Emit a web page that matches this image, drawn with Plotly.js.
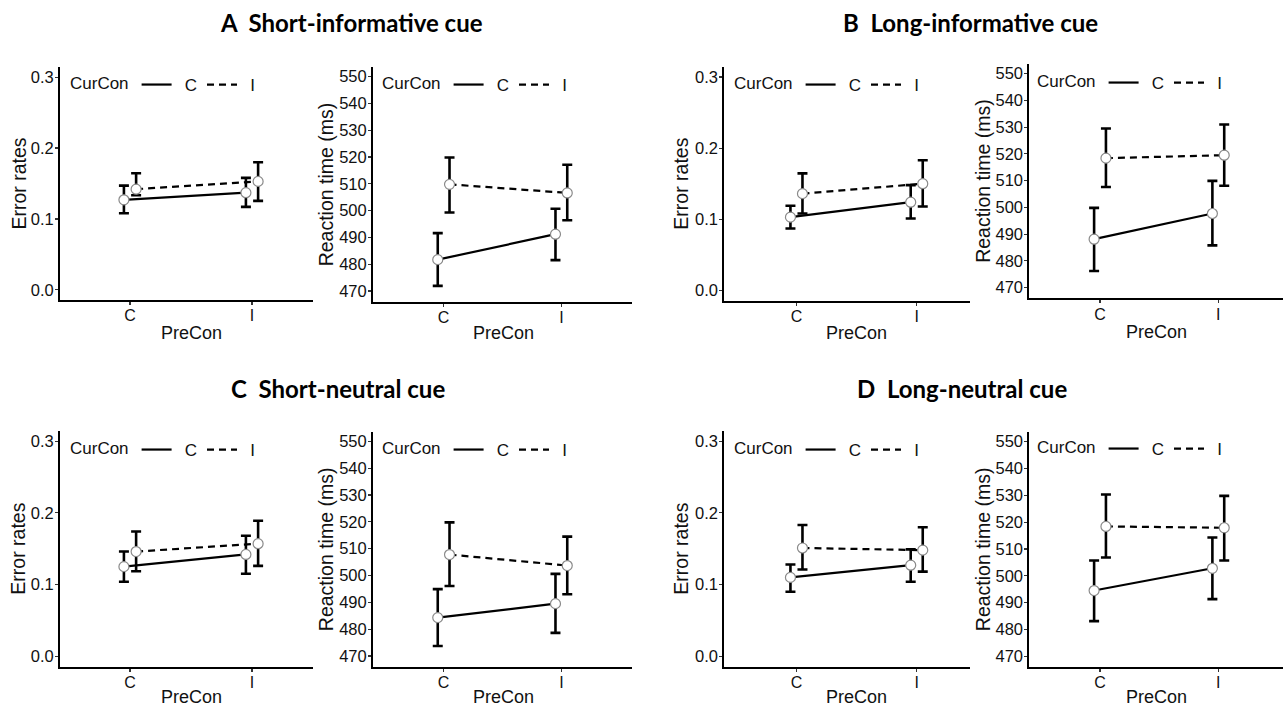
<!DOCTYPE html>
<html>
<head>
<meta charset="utf-8">
<script src="https://cdn.plot.ly/plotly-3.0.1.min.js"></script>
<style>html,body{margin:0;padding:0;background:#fff;}#chart{width:1283px;height:706px;}</style>
</head>
<body>
<div id="chart"></div>
<script>
// ---------------- DATA ----------------
const preCon = ['C', 'I'];
const curConLevels = ['C', 'I'];
const panelTitles = ['A\u00a0\u00a0Short-informative cue', 'B\u00a0\u00a0Long-informative cue', 'C\u00a0\u00a0Short-neutral cue', 'D\u00a0\u00a0Long-neutral cue'];
const errTicks = [0.0, 0.1, 0.2, 0.3];
const rtTicks = [470, 480, 490, 500, 510, 520, 530, 540, 550];
const xTitle = 'PreCon';
const errTitle = 'Error rates';
const rtTitle = 'Reaction time (ms)';
const legendTitle = 'CurCon';

// Error rates (mean, upper, lower) for CurCon = C and I, across PreCon C, I
const errA_C = [0.127, 0.137], errA_C_up = [0.147, 0.158], errA_C_lo = [0.108, 0.117];
const errA_I = [0.142, 0.153], errA_I_up = [0.1645, 0.180], errA_I_lo = [0.1335, 0.1255];
const errB_C = [0.103, 0.124], errB_C_up = [0.119, 0.148], errB_C_lo = [0.087, 0.101];
const errB_I = [0.136, 0.150], errB_I_up = [0.1645, 0.183], errB_I_lo = [0.108, 0.118];
const errC_C = [0.125, 0.142], errC_C_up = [0.146, 0.168], errC_C_lo = [0.104, 0.115];
const errC_I = [0.146, 0.157], errC_I_up = [0.174, 0.189], errC_I_lo = [0.1185, 0.126];
const errD_C = [0.110, 0.127], errD_C_up = [0.128, 0.149], errD_C_lo = [0.090, 0.104];
const errD_I = [0.151, 0.148], errD_I_up = [0.183, 0.180], errD_I_lo = [0.121, 0.118];

// Reaction times in ms (mean, upper, lower)
const rtA_C = [481.7, 491.2], rtA_C_up = [491.6, 500.7], rtA_C_lo = [471.9, 481.5];
const rtA_I = [509.8, 506.6], rtA_I_up = [519.8, 517.1], rtA_I_lo = [499.3, 496.4];
const rtB_C = [488.1, 497.7], rtB_C_up = [499.8, 509.9], rtB_C_lo = [476.2, 485.8];
const rtB_I = [518.4, 519.5], rtB_I_up = [529.5, 531.0], rtB_I_lo = [507.6, 508.1];
const rtC_C = [484.3, 489.5], rtC_C_up = [494.9, 500.6], rtC_C_lo = [473.7, 478.6];
const rtC_I = [507.8, 503.7], rtC_I_up = [519.8, 514.5], rtC_I_lo = [496.1, 493.0];
const rtD_C = [494.5, 502.8], rtD_C_up = [505.7, 514.3], rtD_C_lo = [483.1, 491.3];
const rtD_I = [518.4, 517.9], rtD_I_up = [530.3, 529.8], rtD_I_lo = [506.8, 505.7];

// ---------------- LAYOUT GEOMETRY (pixels) ----------------
const W = 1283, H = 706;
const FONT = 'Liberation Sans, Arial, sans-serif';

const panels = [
  {kind: 'err', C: [errA_C, errA_C_up, errA_C_lo], I: [errA_I, errA_I_up, errA_I_lo], xd: [60, 313],     yd: [67, 300],     xr: [-0.574, 1.5],  leg: [68, 67],   xt: [191.7, 333], yt: 18},
  {kind: 'rt',  C: [rtA_C, rtA_C_up, rtA_C_lo],    I: [rtA_I, rtA_I_up, rtA_I_lo],    xd: [373, 632],    yd: [67, 301.7],   xr: [-0.6, 1.6],    leg: [380, 67],  xt: [503, 333],   yt: 326},
  {kind: 'err', C: [errB_C, errB_C_up, errB_C_lo], I: [errB_I, errB_I_up, errB_I_lo], xd: [724.3, 970],  yd: [66.7, 300.7], xr: [-0.6, 1.443],  leg: [732, 67],  xt: [856.7, 333], yt: 681},
  {kind: 'rt',  C: [rtB_C, rtB_C_up, rtB_C_lo],    I: [rtB_I, rtB_I_up, rtB_I_lo],    xd: [1029.3, 1283],yd: [64, 298.3],   xr: [-0.598, 1.547],leg: [1035, 65], xt: [1156, 331.7],yt: 982.7},
  {kind: 'err', C: [errC_C, errC_C_up, errC_C_lo], I: [errC_I, errC_I_up, errC_I_lo], xd: [60, 313],     yd: [430.7, 666.7],xr: [-0.574, 1.5],  leg: [68, 432],  xt: [191.7, 696.7], yt: 18},
  {kind: 'rt',  C: [rtC_C, rtC_C_up, rtC_C_lo],    I: [rtC_I, rtC_I_up, rtC_I_lo],    xd: [373, 632],    yd: [431.7, 666.7],xr: [-0.6, 1.6],    leg: [380, 432], xt: [503, 696.7],   yt: 326},
  {kind: 'err', C: [errD_C, errD_C_up, errD_C_lo], I: [errD_I, errD_I_up, errD_I_lo], xd: [724.3, 970],  yd: [430.7, 666.7],xr: [-0.6, 1.443],  leg: [732, 432], xt: [856.7, 696.7], yt: 681},
  {kind: 'rt',  C: [rtD_C, rtD_C_up, rtD_C_lo],    I: [rtD_I, rtD_I_up, rtD_I_lo],    xd: [1029.3, 1283],yd: [432, 667],    xr: [-0.598, 1.547],leg: [1035, 431],xt: [1156, 696.7],  yt: 982.7}
];

const titlePos = [[351, 23], [970, 23], [338, 388], [962, 388]];

const traces = [];
const layout = {
  width: W, height: H,
  margin: {l: 0, r: 0, t: 0, b: 0},
  paper_bgcolor: '#fff', plot_bgcolor: '#fff',
  font: {family: FONT, color: '#000'},
  scattermode: 'group',
  scattergap: 0.8,
  showlegend: true,
  annotations: []
};

panels.forEach((p, i) => {
  const n = i + 1;
  const xa = 'xaxis' + (n === 1 ? '' : n), ya = 'yaxis' + (n === 1 ? '' : n);
  const xr = 'x' + (n === 1 ? '' : n), yr = 'y' + (n === 1 ? '' : n);
  const lg = 'legend' + (n === 1 ? '' : n);
  const isErr = p.kind === 'err';

  layout[xa] = {
    domain: [p.xd[0] / W, p.xd[1] / W], anchor: yr,
    type: 'category', categoryorder: 'array', categoryarray: preCon,
    range: p.xr, fixedrange: true,
    showline: true, linecolor: '#000', linewidth: 2, mirror: false,
    ticks: 'outside', ticklen: 3, tickwidth: 1.2, tickcolor: '#333',
    ticklabelstandoff: -3,
    showgrid: false, zeroline: false,
    tickfont: {size: 16, color: '#111', family: FONT}
  };
  layout[ya] = {
    domain: [1 - p.yd[1] / H, 1 - p.yd[0] / H], anchor: xr,
    range: isErr ? [-0.0145, 0.3145] : [466, 553.6], fixedrange: true,
    tickvals: isErr ? errTicks : rtTicks,
    tickformat: isErr ? '.1f' : 'd',
    showline: true, linecolor: '#000', linewidth: 2,
    ticks: 'outside', ticklen: 3, tickwidth: 1.2, tickcolor: '#333',
    ticklabelstandoff: -2,
    showgrid: false, zeroline: false,
    tickfont: {size: 16.5, color: '#111', family: FONT}
  };
  layout[lg] = {
    x: p.leg[0] / W, y: 1 - p.leg[1] / H, xanchor: 'left', yanchor: 'top',
    xref: 'paper', yref: 'paper',
    orientation: 'h', bgcolor: 'rgba(0,0,0,0)', borderwidth: 0,
    title: {text: legendTitle, side: 'left', font: {size: 17, family: FONT, color: '#111'}},
    font: {size: 17, family: FONT, color: '#111'},
    itemwidth: 30, tracegroupgap: 0, itemclick: false, itemdoubleclick: false
  };

  // axis titles as annotations
  layout.annotations.push({
    xref: 'paper', yref: 'paper', x: p.xt[0] / W, y: 1 - p.xt[1] / H,
    xanchor: 'center', yanchor: 'middle', showarrow: false,
    text: xTitle, font: {size: 18, family: FONT, color: '#111'}
  });
  layout.annotations.push({
    xref: 'paper', yref: 'paper', x: p.yt / W, y: 1 - ((p.yd[0] + p.yd[1]) / 2) / H,
    xanchor: 'center', yanchor: 'middle', showarrow: false, textangle: -90,
    text: isErr ? errTitle : rtTitle, font: {size: 19.5, family: FONT, color: '#111'}
  });

  curConLevels.forEach((lvl) => {
    const s = p[lvl];
    const mean = s[0], up = s[1], lo = s[2];
    const dash = lvl === 'C' ? 'solid' : '7px,5px';
    traces.push({
      type: 'scatter', mode: 'lines+markers',
      x: preCon, y: mean, xaxis: xr, yaxis: yr,
      offsetgroup: lvl, showlegend: false, name: lvl, legend: lg,
      line: {color: '#000', width: 2.2, dash: dash},
      marker: {size: 10, color: '#fff', line: {color: '#8a8a8a', width: 1.2}},
      error_y: {type: 'data', symmetric: false,
        array: up.map((v, k) => v - mean[k]),
        arrayminus: lo.map((v, k) => mean[k] - v),
        color: '#000', thickness: 2.6, width: 5},
      hoverinfo: 'skip'
    });
  });
  curConLevels.forEach((lvl) => {
    traces.push({
      type: 'scatter', mode: 'lines', x: [null], y: [null], xaxis: xr, yaxis: yr,
      offsetgroup: lvl, name: '\u00a0\u2009' + lvl, legend: lg, showlegend: true,
      line: {color: '#000', width: 2.2, dash: lvl === 'C' ? 'solid' : '7px,5px'},
      hoverinfo: 'skip'
    });
  });
});

panelTitles.forEach((t, i) => {
  layout.annotations.push({
    xref: 'paper', yref: 'paper', x: titlePos[i][0] / W, y: 1 - titlePos[i][1] / H,
    xanchor: 'center', yanchor: 'middle', showarrow: false,
    text: '<b>' + t + '</b>',
    font: {family: 'Lato, Open Sans, sans-serif', size: 24, color: '#000'}
  });
});

Plotly.newPlot('chart', traces, layout, {displayModeBar: false, staticPlot: true});
</script>
</body>
</html>
